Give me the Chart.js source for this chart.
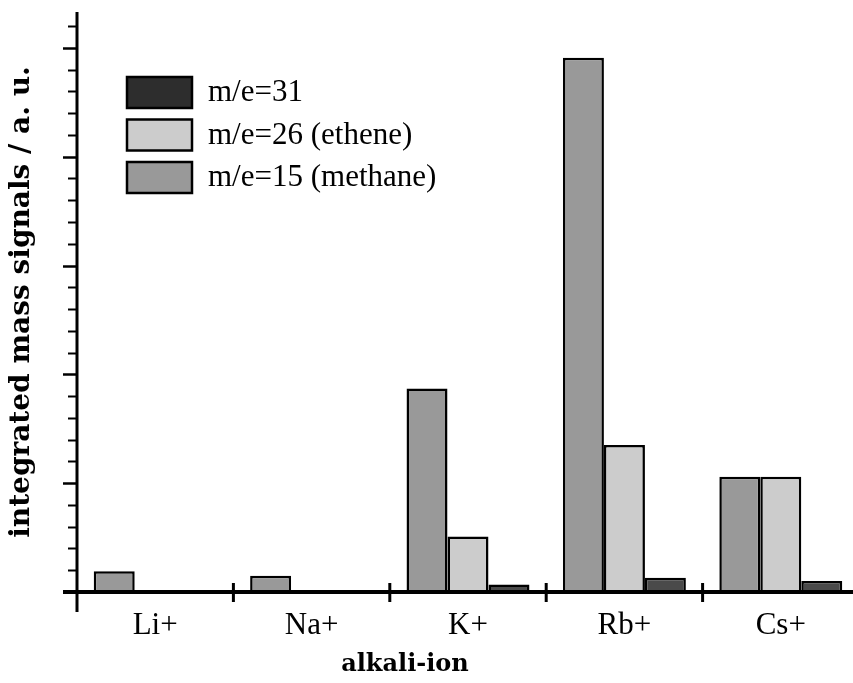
<!DOCTYPE html>
<html>
<head>
<meta charset="utf-8">
<script src="https://cdn.jsdelivr.net/npm/chart.js@4.4.1/dist/chart.umd.min.js"></script>
<style>
  html, body { margin: 0; padding: 0; background: #fff; overflow: hidden; }
  #wrap { width: 880px; height: 683px; }
</style>
</head>
<body>
<div id="wrap"><canvas id="chart"></canvas></div>
<script>
// categories and series (arbitrary units)
const ions = ["Li+", "Na+", "K+", "Rb+", "Cs+"];
const methane = [0.19, 0.15, 1.87, 4.91, 1.06];   // m/e=15
const ethene = [0, 0, 0.51, 1.35, 1.06];         // m/e=26
const me31 = [0, 0, 0.07, 0.13, 0.10];           // m/e=31

const seriesLabels = ["m/e=15 (methane)", "m/e=26 (ethene)", "m/e=31"];
const seriesColors = ["#999999", "#cccccc", "#4a4a4a"];
const legendColors = ["#999999", "#cccccc", "#2d2d2d"];

const serif = "'Liberation Serif', 'Times New Roman', serif";
const boldSerif = "'DejaVu Serif', serif";

// axis lines, tick marks, separators, legend and x title
const axesPlugin = {
  id: "axesPlugin",
  afterDatasetsDraw(chart) {
    const { ctx, chartArea: a } = chart;
    const y = chart.scales.y;
    const x = chart.scales.x;
    ctx.save();
    ctx.strokeStyle = "#000";
    ctx.lineCap = "butt";

    // y ticks (major on integers, minor between)
    y.ticks.forEach((t) => {
      const steps = t.value / 0.2;
      if (Math.abs(steps - Math.round(steps)) > 1e-6) return;
      const py = Math.round(y.getPixelForValue(t.value)) + 0.5;
      const major = Math.abs(t.value - Math.round(t.value)) < 1e-6;
      ctx.lineWidth = major ? 2.5 : 2;
      ctx.beginPath();
      ctx.moveTo(a.left - (major ? 14 : 9), py);
      ctx.lineTo(a.left, py);
      ctx.stroke();
    });

    // y axis line
    ctx.lineWidth = 3;
    ctx.beginPath();
    ctx.moveTo(a.left, a.top);
    ctx.lineTo(a.left, a.bottom + 20);
    ctx.stroke();

    // baseline
    ctx.lineWidth = 4;
    ctx.beginPath();
    ctx.moveTo(a.left - 14, a.bottom);
    ctx.lineTo(a.right, a.bottom);
    ctx.stroke();

    // category separators
    ctx.lineWidth = 3;
    for (let i = 1; i < ions.length; i++) {
      const px = (x.getPixelForValue(i - 1) + x.getPixelForValue(i)) / 2;
      ctx.beginPath();
      ctx.moveTo(px, a.bottom - 9);
      ctx.lineTo(px, a.bottom + 10);
      ctx.stroke();
    }

    // legend, reversed order
    const order = [2, 1, 0];
    ctx.font = "31px " + serif;
    ctx.textBaseline = "middle";
    ctx.textAlign = "left";
    order.forEach((d, k) => {
      const bx = a.left + 50;
      const by = a.top + 65 + k * 42.5;
      ctx.fillStyle = legendColors[d];
      ctx.fillRect(bx, by, 65, 31);
      ctx.lineWidth = 2.5;
      ctx.strokeStyle = "#000";
      ctx.strokeRect(bx, by, 65, 31);
      ctx.fillStyle = "#000";
      ctx.fillText(seriesLabels[d], bx + 81, by + 16);
    });

    // x title
    ctx.font = "bold 24px " + boldSerif;
    ctx.textAlign = "center";
    ctx.fillText("alkali-ion", 405, 665);
    ctx.restore();
  },
};

const datasets = [methane, ethene, me31].map((vals, i) => ({
  label: seriesLabels[i],
  data: vals,
  backgroundColor: seriesColors[i],
  borderColor: "#000",
  borderWidth: 2.5,
  borderSkipped: "bottom",
  barPercentage: 1,
  categoryPercentage: 0.786,
}));

new Chart(document.getElementById("chart"), {
  type: "bar",
  data: { labels: ions, datasets },
  options: {
    responsive: true,
    maintainAspectRatio: false,
    animation: false,
    layout: { padding: { top: 12, right: 21, left: 0, bottom: 0 } },
    plugins: { legend: { display: false }, tooltip: { enabled: false } },
    scales: {
      x: {
        grid: { display: false },
        border: { display: false },
        ticks: { color: "#000", font: { family: serif, size: 31 }, padding: 7 },
        afterFit(scale) { scale.height = 91; },
      },
      y: {
        min: 0,
        max: 5.33,
        grid: { display: false },
        border: { display: false },
        ticks: { display: false, stepSize: 0.2, includeBounds: false },
        title: {
          display: true,
          text: "integrated mass signals / a. u.",
          color: "#000",
          font: { family: boldSerif, size: 28, weight: "bold" },
          padding: { top: 5, bottom: 0 },
        },
        afterFit(scale) { scale.width = 77; },
      },
    },
  },
  plugins: [axesPlugin],
});
</script>
</body>
</html>
